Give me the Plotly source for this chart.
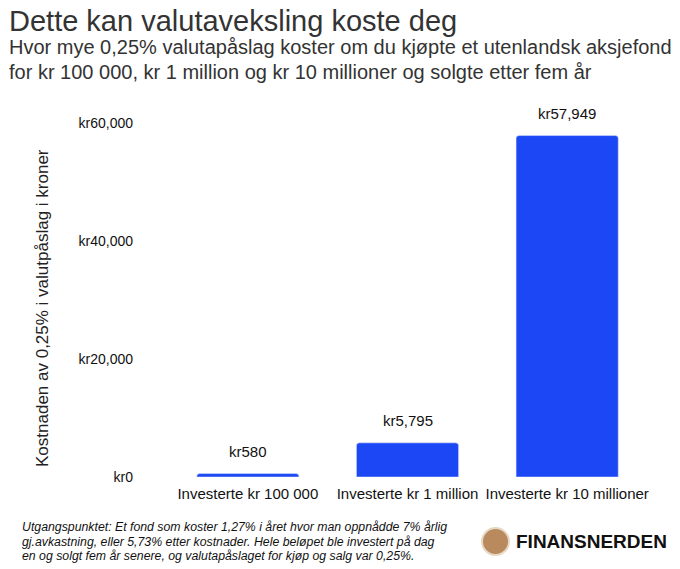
import plotly.graph_objects as go

# data
categories = ["Investerte kr 100 000", "Investerte kr 1 million", "Investerte kr 10 millioner"]
costs = [580, 5795, 57949]
tick_vals = [0, 20000, 40000, 60000]
tick_text = ["kr0", "kr20,000", "kr40,000", "kr60,000"]
note_lines = [
    "Utgangspunktet: Et fond som koster 1,27% i året hvor man oppnådde 7% årlig",
    "gj.avkastning, eller 5,73% etter kostnader. Hele beløpet ble investert på dag",
    "en og solgt fem år senere, og valutapåslaget for kjøp og salg var 0,25%.",
]

W, H = 680, 569
left, right, top, bottom = 168, 33, 94, 92
font = "Liberation Sans, Arial, sans-serif"

fig = go.Figure(
    go.Bar(
        x=categories,
        y=costs,
        marker=dict(color="#1b48f4", cornerradius=3),
        hoverinfo="x+y",
    )
)

# value labels above bars
for c, v in zip(categories, costs):
    fig.add_annotation(x=c, y=v, text="kr{:,}".format(v), showarrow=False,
                       yanchor="middle", yshift=22, font=dict(size=15, color="#111"))

fig.update_layout(
    width=W, height=H,
    margin=dict(l=left, r=right, t=top, b=bottom),
    paper_bgcolor="white", plot_bgcolor="white",
    font=dict(family=font, color="#111"),
    bargap=0.36,
    showlegend=False,
)
fig.update_yaxes(
    range=[0, 65000], tickvals=tick_vals, ticktext=tick_text,
    showgrid=False, zeroline=False, showline=False,
    tickfont=dict(size=14, color="#111"), ticklabelstandoff=34,
)
fig.update_xaxes(showgrid=False, showline=False, ticklabelstandoff=6,
                 tickfont=dict(size=15, color="#111"))

pw, ph = W - left - right, H - top - bottom


def px(x):
    return (x - left) / pw


def py(y):
    return (H - bottom - y) / ph


ann = [
    dict(text="Dette kan valutaveksling koste deg", x=px(7), y=py(21),
         font=dict(size=29, color="#333")),
    dict(text="Hvor mye 0,25% valutapåslag koster om du kjøpte et utenlandsk aksjefond",
         x=px(7), y=py(47), font=dict(size=20, color="#333")),
    dict(text="for kr 100 000, kr 1 million og kr 10 millioner og solgte etter fem år",
         x=px(7), y=py(72), font=dict(size=20, color="#333")),
    dict(text="<b>FINANSNERDEN</b>", x=px(514), y=py(541), font=dict(size=19, color="#111")),
]
for i, line in enumerate(note_lines):
    ann.append(dict(text="<i>" + line + "</i>", x=px(20), y=py(527 + 14.5 * i),
                    font=dict(size=12.3, color="#111")))
for a in ann:
    fig.add_annotation(xref="paper", yref="paper", xanchor="left", yanchor="middle",
                       align="left", showarrow=False, **a)

fig.add_annotation(text="Kostnaden av 0,25% i valutpåslag i kroner", xref="paper", yref="paper",
                   x=px(42), y=py(308), xanchor="center", yanchor="middle",
                   textangle=-90, showarrow=False, font=dict(size=17, color="#222"))

# logo placeholder
fig.add_shape(type="circle", xref="paper", yref="paper",
              x0=px(482), x1=px(509), y0=py(555), y1=py(528),
              fillcolor="#b98a5e", line=dict(color="#e6d8c4", width=2))

fig.write_html("out.html", config={"displayModeBar": False},
               post_script="document.body.style.margin='0';")
